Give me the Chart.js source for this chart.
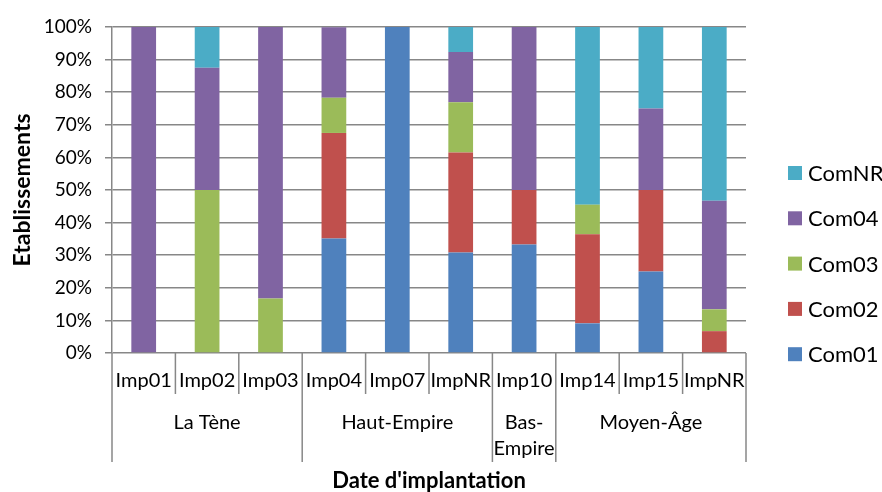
<!DOCTYPE html>
<html>
<head>
<meta charset="utf-8">
<script src="https://cdn.jsdelivr.net/npm/chart.js@4.4.1/dist/chart.umd.min.js"></script>
<style>
  body { margin: 0; background: #fff; }
  #wrap { width: 882px; height: 492px; }
</style>
</head>
<body>
<div id="wrap"><canvas id="myChart" width="882" height="492"></canvas></div>
<script>
const categories = ['Imp01', 'Imp02', 'Imp03', 'Imp04', 'Imp07', 'ImpNR', 'Imp10', 'Imp14', 'Imp15', 'ImpNR'];
const periods = [['La Tène'], ['Haut-Empire'], ['Bas-', 'Empire'], ['Moyen-Âge']];
const periodSizes = [3, 3, 1, 3];
const yTicks = [0, 10, 20, 30, 40, 50, 60, 70, 80, 90, 100];

const com01 = [0, 0, 0, 35.1, 100, 30.8, 33.3, 9.1, 25, 0];
const com02 = [0, 0, 0, 32.4, 0, 30.7, 16.7, 27.3, 25, 6.7];
const com03 = [0, 50, 16.7, 10.8, 0, 15.4, 0, 9.1, 0, 6.7];
const com04 = [100, 37.5, 83.3, 21.6, 0, 15.4, 50, 0, 25, 33.3];
const comNR = [0, 12.5, 0, 0, 0, 7.7, 0, 54.5, 25, 53.3];

const FONT = 'Lato';
const GRID = '#878787';

const ctx = document.getElementById('myChart');

// second row of x labels, separators and legend drawn by hand
const groupAxis = {
    id: 'groupAxis',
    afterDraw(chart) {
        const c = chart.ctx;
        const x = chart.scales.x;
        const base = chart.chartArea.bottom;
        c.save();
        c.strokeStyle = GRID;
        c.lineWidth = 1.5;
        c.fillStyle = '#000';
        c.textAlign = 'center';
        c.textBaseline = 'middle';
        c.font = '20px ' + FONT;

        // category separators and labels
        const bounds = [];
        let k = 0;
        periodSizes.forEach(n => { bounds.push(k); k += n; });
        bounds.push(k);
        for (let i = 0; i <= categories.length; i++) {
            const px = x.getPixelForValue(i - 0.5);
            const long = bounds.includes(i);
            c.beginPath();
            c.moveTo(px, base);
            c.lineTo(px, long ? 462 : 394);
            c.stroke();
        }
        categories.forEach((lab, i) => {
            c.fillText(lab, x.getPixelForValue(i), 381);
        });

        // period labels
        for (let g = 0; g < periods.length; g++) {
            const mid = (x.getPixelForValue(bounds[g] - 0.5) + x.getPixelForValue(bounds[g + 1] - 0.5)) / 2;
            const lines = periods[g];
            lines.forEach((t, j) => {
                c.fillText(t, mid, 423 + j * 25.5);
            });
        }

        // legend (reversed, like Excel)
        c.textAlign = 'left';
        c.font = '22px ' + FONT;
        const sets = chart.data.datasets.slice().reverse();
        sets.forEach((ds, j) => {
            const cy = 173 + j * 45.3;
            c.fillStyle = ds.backgroundColor;
            c.fillRect(788, cy - 7, 14, 14);
            c.fillStyle = '#000';
            c.fillText(ds.label, 808, cy + 1);
        });
        c.restore();
    }
};

new Chart(ctx, {
    type: 'bar',
    data: {
        labels: categories,
        datasets: [
            { label: 'Com01', data: com01, backgroundColor: '#4F81BD' },
            { label: 'Com02', data: com02, backgroundColor: '#C0504D' },
            { label: 'Com03', data: com03, backgroundColor: '#9BBB59' },
            { label: 'Com04', data: com04, backgroundColor: '#8064A2' },
            { label: 'ComNR', data: comNR, backgroundColor: '#4BACC6' }
        ]
    },
    options: {
        responsive: false,
        animation: false,
        layout: { padding: { left: 0, top: 27, right: 136, bottom: 0 } },
        datasets: { bar: { barPercentage: 0.39, categoryPercentage: 1 } },
        plugins: {
            legend: { display: false },
            tooltip: { enabled: false }
        },
        scales: {
            x: {
                stacked: true,
                grid: { display: false },
                border: { display: false },
                ticks: { display: false },
                title: {
                    display: true,
                    text: "Date d'implantation",
                    color: '#000',
                    font: { family: FONT, size: 22, weight: 'bold' },
                    padding: { top: 0, bottom: -2 }
                },
                afterFit: s => { s.height = 139; }
            },
            y: {
                stacked: true,
                min: 0,
                max: 100,
                afterBuildTicks: s => { s.ticks = yTicks.map(v => ({ value: v })); },
                ticks: {
                    color: '#000',
                    padding: 13,
                    font: { family: FONT, size: 19 },
                    callback: v => v + '%'
                },
                grid: { color: GRID, lineWidth: 1.5, tickLength: 7 },
                border: { color: GRID, width: 1.5 },
                title: {
                    display: true,
                    text: 'Etablissements',
                    color: '#000',
                    font: { family: FONT, size: 23, weight: 'bold' },
                    padding: { top: 9, bottom: 0 }
                },
                afterFit: s => { s.width = 112; }
            }
        }
    },
    plugins: [groupAxis]
});
</script>
</body>
</html>
